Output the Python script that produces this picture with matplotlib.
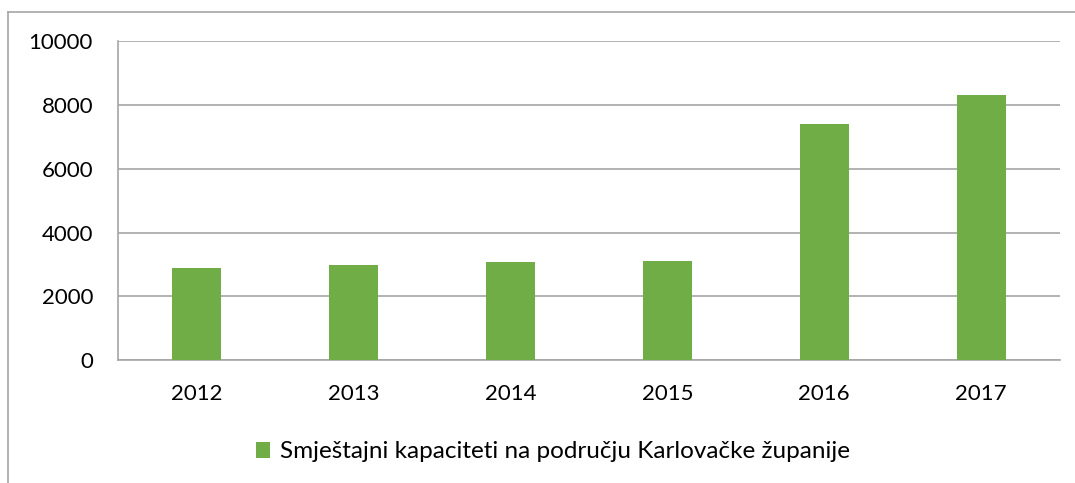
import numpy as np
import matplotlib.pyplot as plt
from matplotlib.lines import Line2D

plt.rcParams['font.family'] = ['Lato', 'DejaVu Sans']

years = ['2012', '2013', '2014', '2015', '2016', '2017']
kapaciteti = [2890, 2990, 3080, 3110, 7410, 8320]
naziv = 'Smještajni kapaciteti na području Karlovačke županije'

fig = plt.figure(figsize=(10.75, 4.83), dpi=100)
ax = fig.add_axes([0.1098, 0.2547, 0.876, 0.6598])

x = np.arange(len(years))
ax.bar(x, kapaciteti, width=0.31, color='#70ad47', label=naziv, zorder=3)

ax.set_xlim(-0.5, len(years) - 0.5)
ax.set_ylim(0, 10000)
ax.set_yticks(np.arange(0, 10001, 2000))
ax.set_xticks(x)
ax.set_xticklabels(years)
ax.tick_params(axis='both', length=0, labelsize=16, colors='black')
ax.tick_params(axis='y', pad=18)
ax.tick_params(axis='x', pad=17)

# gridlines
ax.grid(axis='y', color='#a6a6a6', linewidth=1.2, zorder=0)
for s in ['top', 'right']:
    ax.spines[s].set_visible(False)
ax.spines['left'].set_color('#a6a6a6')
ax.spines['bottom'].set_color('#a6a6a6')
ax.spines['left'].set_linewidth(1.2)
ax.spines['bottom'].set_linewidth(1.2)

# outer frame (left and top only visible)
x0 = 8 / 1075
y0 = 1 - 12 / 483
fig.add_artist(Line2D([x0, x0], [0, y0], color='#a6a6a6', linewidth=1.2))
fig.add_artist(Line2D([x0, 1], [y0, y0], color='#a6a6a6', linewidth=1.2))

fig.legend(loc='center', bbox_to_anchor=(553 / 1075, 1 - 452 / 483), frameon=False,
           fontsize=17.5, handlelength=0.6, handleheight=0.6, handletextpad=0.4)

fig.savefig('out.png', dpi=100)
